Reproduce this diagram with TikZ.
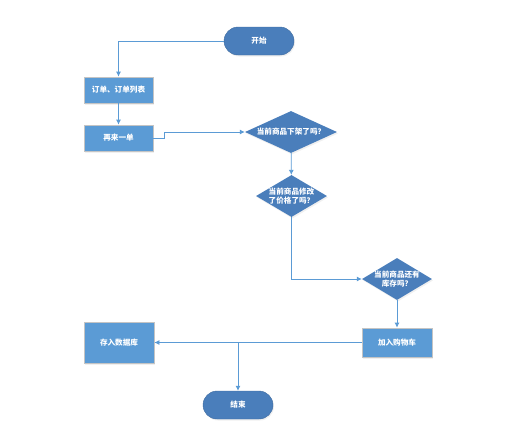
\documentclass[tikz,border=0pt]{standalone}
\usepackage{fontspec}
\newfontfamily\cjk{Noto Sans CJK SC}
\usetikzlibrary{positioning,arrows.meta,shapes.geometric,shadows}
\definecolor{flowdark}{RGB}{74,126,187}
\definecolor{flowlight}{RGB}{91,155,213}
\definecolor{flowline}{RGB}{91,155,213}
\definecolor{flowedge}{RGB}{196,196,196}

\begin{document}
\begin{tikzpicture}[
  x=1pt, y=-1pt,
  txt/.style={font=\cjk\bfseries\fontsize{7.6}{9.5}\selectfont, text=white, align=center},
  terminal/.style={txt, fill=flowdark, draw=flowdark!85!black, line width=0.4pt,
    rounded corners=14pt, minimum width=70pt, minimum height=28pt, inner sep=0pt,
    drop shadow={opacity=0.12, shadow xshift=1pt, shadow yshift=-1.5pt}},
  process/.style={txt, fill=flowlight, draw=flowedge, line width=0.8pt,
    minimum width=69pt, inner sep=0pt,
    drop shadow={opacity=0.12, shadow xshift=1pt, shadow yshift=-1.5pt}},
  decision/.style={diamond, fill=flowdark, draw=none, inner sep=0pt,
    drop shadow={opacity=0.12, shadow xshift=1pt, shadow yshift=-1.5pt}},
  arrow/.style={-{Latex[length=5pt,width=5pt]}, draw=flowline, line width=0.8pt}
]
\useasboundingbox (0,0) rectangle (525,432);

\node[terminal] (start) at (259,41) {开始};
\node[process, minimum height=26pt] (order) at (118.5,90) {订单、订单列表};
\node[process, minimum height=26pt] (again) at (118.5,138) {再来一单};
\node[decision, minimum width=92pt, minimum height=42pt,
  label={[txt]center:当前商品下架了吗？}] (offshelf) at (291,132) {};
\node[decision, minimum width=71pt, minimum height=42pt,
  label={[txt]center:当前商品修改\\了价格了吗？}] (price) at (291.5,196) {};
\node[decision, minimum width=70pt, minimum height=42pt,
  label={[txt]center:当前商品还有\\库存吗？}] (stock) at (397,279) {};
\node[process, minimum width=70pt, minimum height=29pt] (cart) at (397,342.5) {加入购物车};
\node[process, minimum width=70pt, minimum height=41pt] (db) at (119,342.5) {存入数据库};
\node[terminal] (stop) at (238,405) {结束};
\coordinate (split) at (238,342.5);

% main path
\draw[arrow] (start.west) -| (order.north);
\draw[arrow] (order) -- (again);
\draw[arrow] (again.east) -- ++(11,0) |- (offshelf.west);
\draw[arrow] (offshelf) -- (price);
\draw[arrow] (price.south) |- (stock.west);
\draw[arrow] (stock) -- (cart);

% save and finish
\draw[arrow] (cart) -- (db);
\draw[arrow] (split) -- (stop);
\end{tikzpicture}
\end{document}
